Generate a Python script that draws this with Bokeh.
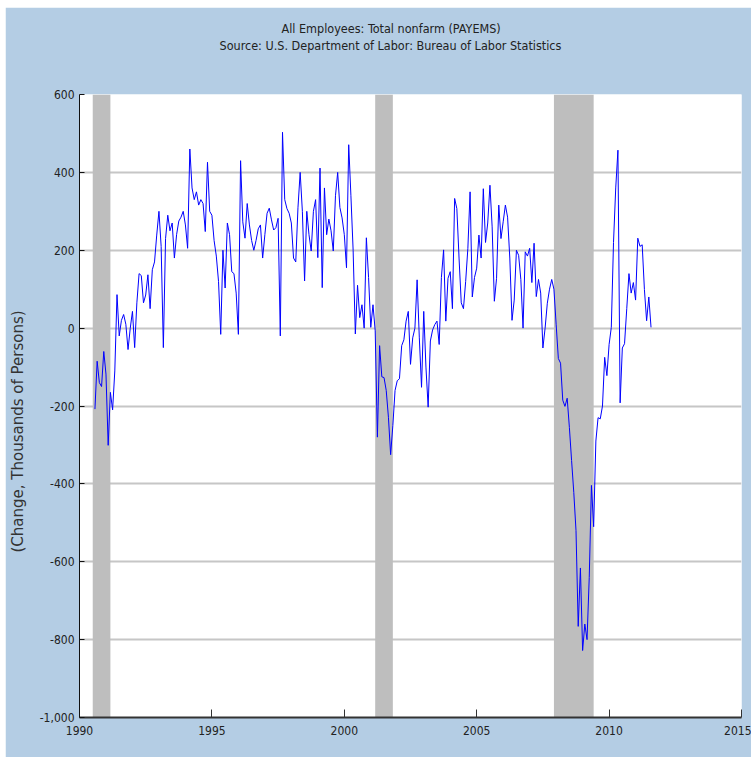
from bokeh.plotting import figure
from bokeh.models import Range1d, FixedTicker, NumeralTickFormatter, BoxAnnotation, Title, ColumnDataSource
from bokeh.embed import file_html
from bokeh.resources import INLINE

# ---- data: monthly change in total nonfarm payrolls (thousands) ----
first_year = 1990
first_month = 8  # series shown from Aug 1990

vals_1990 = [-208, -85, -140, -150, -60]
vals_1991 = [-118, -301, -165, -210, -110, 86, -20, 20, 35, 10, -55, 0]
vals_1992 = [43, -50, 65, 140, 135, 65, 85, 137, 50, 150, 170, 239]
vals_1993 = [300, 210, -50, 230, 290, 250, 270, 180, 240, 275, 285, 300]
vals_1994 = [265, 205, 460, 360, 330, 350, 316, 330, 320, 248, 426, 300]
vals_1995 = [290, 225, 185, 120, -16, 200, 103, 270, 240, 145, 140, 90]
vals_1996 = [-16, 430, 273, 231, 320, 265, 225, 200, 225, 255, 265, 180]
vals_1997 = [240, 295, 308, 278, 252, 258, 282, -20, 503, 330, 307, 295]
vals_1998 = [270, 180, 170, 309, 400, 300, 121, 300, 240, 198, 300, 330]
vals_1999 = [181, 411, 104, 360, 240, 280, 250, 198, 340, 400, 310, 283]
vals_2000 = [240, 155, 471, 340, 200, -15, 110, 27, 60, 0, 232, 130]
vals_2001 = [2, 60, -7, -280, -45, -125, -127, -160, -229, -325, -250, -160]
vals_2002 = [-135, -130, -45, -30, 18, 43, -93, -25, 0, 124, -25, -152]
vals_2003 = [43, -100, -203, -33, -5, 9, 18, -42, 130, 201, 18, 128]
vals_2004 = [145, 50, 333, 307, 180, 65, 50, 120, 205, 350, 80, 130]
vals_2005 = [154, 239, 180, 358, 220, 270, 367, 260, 69, 128, 316, 230]
vals_2006 = [273, 316, 285, 180, 20, 72, 200, 187, 125, 0, 196, 185]
vals_2007 = [205, 117, 218, 81, 125, 90, -51, 0, 64, 100, 125, 100]
vals_2008 = [10, -78, -90, -185, -201, -180, -255, -340, -422, -520, -766, -616]
vals_2009 = [-828, -760, -800, -640, -404, -510, -290, -230, -233, -200, -75, -122]
vals_2010 = [-42, 2, 220, 360, 457, -192, -51, -40, 50, 140, 90, 117]
vals_2011 = [72, 231, 210, 214, 99, 19, 80, 2]

yearly_values = [vals_1990, vals_1991, vals_1992, vals_1993, vals_1994, vals_1995,
                 vals_1996, vals_1997, vals_1998, vals_1999, vals_2000, vals_2001,
                 vals_2002, vals_2003, vals_2004, vals_2005, vals_2006, vals_2007,
                 vals_2008, vals_2009, vals_2010, vals_2011]

# NBER recessions (year-month)
rec_start = ["1990-07", "2001-03", "2007-12"]
rec_end = ["1991-03", "2001-11", "2009-06"]

x_ticks = [1990, 1995, 2000, 2005, 2010, 2015]
y_ticks = [-1000, -800, -600, -400, -200, 0, 200, 400, 600]

title_main = "All Employees: Total nonfarm (PAYEMS)"
title_source = "Source: U.S. Department of Labor: Bureau of Labor Statistics"
y_label = "(Change, Thousands of Persons)"

# ---- build series ----
xs, ys = [], []
for i, vals in enumerate(yearly_values):
    yr = first_year + i
    m0 = first_month - 1 if i == 0 else 0
    for k, v in enumerate(vals):
        xs.append(yr + (m0 + k) / 12.0)
        ys.append(v)

def ym_to_dec(s):
    y, m = s.split("-")
    return int(y) + (int(m) - 1) / 12.0

BG = "#B4CDE4"
FONT = "DejaVu Sans Condensed"
TXT = "#222222"

p = figure(width=746, height=750, x_range=Range1d(1990, 2015), y_range=Range1d(-1000, 600),
           output_backend="svg", toolbar_location=None, title_location=None,
           min_border_left=74, min_border_right=10, min_border_top=87, min_border_bottom=40,
           background_fill_color="white", border_fill_color=BG, outline_line_color=None)
p.margin = (7, 0, 0, 5)

# recession shading
for s, e in zip(rec_start, rec_end):
    p.add_layout(BoxAnnotation(left=ym_to_dec(s), right=ym_to_dec(e), fill_color="#BEBEBE",
                               fill_alpha=1.0, line_color=None, level="underlay"))

src = ColumnDataSource(dict(x=xs, y=ys))
p.line("x", "y", source=src, line_color="#0000FF", line_width=1)

# axes
p.xaxis.ticker = FixedTicker(ticks=x_ticks)
p.xaxis.major_tick_in = 8
p.xaxis.major_tick_out = 0
p.xaxis.minor_tick_line_color = None
p.xaxis.axis_line_width = 2
p.xaxis.axis_line_color = "#333333"
p.xaxis.major_tick_line_color = "#333333"
p.xaxis.major_label_standoff = 8

p.yaxis.ticker = FixedTicker(ticks=y_ticks)
p.yaxis.formatter = NumeralTickFormatter(format="0,0")
p.yaxis.major_tick_in = 5
p.yaxis.major_tick_out = 0
p.yaxis.minor_tick_line_color = None
p.yaxis.axis_line_color = "#111111"
p.yaxis.major_tick_line_color = "#111111"
p.yaxis.major_label_standoff = 5

for ax in (p.xaxis, p.yaxis):
    ax.major_label_text_font = FONT
    ax.major_label_text_font_size = "12px"
    ax.major_label_text_color = TXT

p.xgrid.visible = False
p.ygrid.grid_line_color = "#C6C6C6"
p.ygrid.grid_line_width = 2

# titles (a blank spacer keeps the two title lines well above the plot frame)
top_spacer = Title(text=" ", standoff=39, text_font_size="1px", text_color=BG)
p.add_layout(top_spacer, "above")
t_src = Title(text=title_source, align="left", offset=140, standoff=0,
              text_font=FONT, text_font_size="12.5px", text_font_style="normal", text_color=TXT)
p.add_layout(t_src, "above")
t_main = Title(text=title_main, align="left", offset=202, standoff=0,
               text_font=FONT, text_font_size="12.5px", text_font_style="normal", text_color=TXT)
p.add_layout(t_main, "above")

left_spacer = Title(text=" ", standoff=7, text_font_size="1px", text_color=BG)
p.add_layout(left_spacer, "left")
t_y = Title(text=y_label, align="left", offset=165, standoff=0,
            text_font="DejaVu Sans", text_font_size="15px", text_font_style="normal", text_color="#333333")
p.add_layout(t_y, "left")

open("out.html", "w").write(file_html(p, INLINE))
